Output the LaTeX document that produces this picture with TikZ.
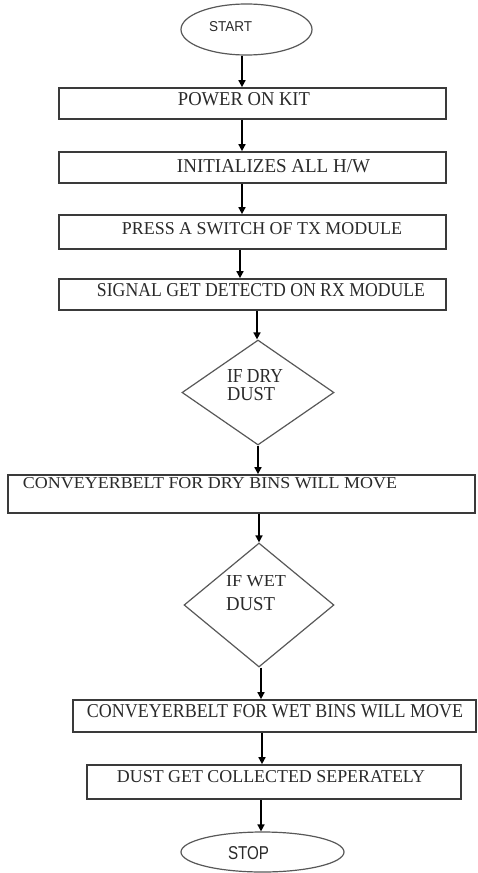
\documentclass[tikz,border=0pt]{standalone}
\usepackage{fontspec}
\setmainfont{Liberation Serif}
\setsansfont{Liberation Sans}
\usepackage{graphicx}
\usetikzlibrary{shapes.geometric,arrows.meta}
\newcommand{\fitt}[3]{\resizebox{#1pt}{#2pt}{#3}}
\definecolor{txtc}{HTML}{2A2A2A}
\definecolor{linec}{HTML}{3A3A3A}
\begin{document}
\begin{tikzpicture}[x=1pt,y=1pt,
  boxstyle/.style={draw=linec, line width=1.7pt, rectangle, inner sep=0pt},
  ellstyle/.style={draw=linec!85, line width=1.2pt, ellipse, inner sep=0pt},
  diastyle/.style={draw=linec!85, line width=1.2pt, diamond, inner sep=0pt},
  txt/.style={inner sep=0pt, text=txtc},
  arr/.style={draw=black, line width=1.6pt, -{Triangle[width=7pt,length=7pt]}}
]
\useasboundingbox[fill=white] (0,0) rectangle (477,-873);

% shapes
\node[ellstyle, minimum width=131pt, minimum height=51pt] (start) at (246.5,-29.5) {};
\node[boxstyle, minimum width=387pt, minimum height=31pt] (b1) at (252.5,-103.5) {};
\node[boxstyle, minimum width=387pt, minimum height=31pt] (b2) at (252.5,-167.5) {};
\node[boxstyle, minimum width=387pt, minimum height=34pt] (b3) at (252.5,-232) {};
\node[boxstyle, minimum width=387pt, minimum height=31pt] (b4) at (252.5,-294.5) {};
\node[diastyle, minimum width=152pt, minimum height=105pt] (d1) at (258,-392.5) {};
\node[boxstyle, minimum width=467pt, minimum height=38pt] (b5) at (241.5,-494) {};
\node[diastyle, minimum width=150pt, minimum height=124pt] (d2) at (259,-605) {};
\node[boxstyle, minimum width=403pt, minimum height=32pt] (b6) at (274.5,-716) {};
\node[boxstyle, minimum width=374pt, minimum height=34pt] (b7) at (274,-782) {};
\node[ellstyle, minimum width=163pt, minimum height=40pt] (stop) at (262.5,-852) {};

% texts
\node[txt] (tstart) at (230.5,-26.5) {\fitt{43}{10}{\sffamily START}};
\node[txt] (t1) at (244,-99.5) {\fitt{132}{13}{POWER ON KIT}};
\node[txt] (t2) at (273.5,-166.5) {\fitt{193}{13}{INITIALIZES ALL H/W}};
\node[txt] (t3) at (262,-228.5) {\fitt{280}{12}{PRESS A SWITCH OF TX MODULE}};
\node[txt] (t4) at (261,-290.5) {\fitt{328}{13}{SIGNAL GET DETECTD ON RX MODULE}};
\node[txt] (td1a) at (255,-376.5) {\fitt{56}{13}{IF DRY}};
\node[txt] (td1b) at (251,-394.5) {\fitt{48}{13}{DUST}};
\node[txt] (t5) at (210,-483.5) {\fitt{374}{11}{CONVEYERBELT FOR DRY BINS WILL MOVE}};
\node[txt] (td2a) at (256,-581.5) {\fitt{60}{11}{IF WET}};
\node[txt] (td2b) at (250.5,-604.5) {\fitt{49}{13}{DUST}};
\node[txt] (t6) at (275,-711.5) {\fitt{376}{13}{CONVEYERBELT FOR WET BINS WILL MOVE}};
\node[txt] (t7) at (271,-777) {\fitt{308}{12}{DUST GET COLLECTED SEPERATELY}};
\node[txt] (tstop) at (248.5,-853.5) {\fitt{41}{13}{\sffamily STOP}};

% arrow x positions
\coordinate (x1) at (242,0);
\coordinate (x4) at (240,0);
\coordinate (x5) at (257,0);
\coordinate (x8) at (261,0);
\coordinate (x9) at (262,0);

% connectors
\draw[arr] (start.south -| x1) -- (b1.north -| x1);
\draw[arr] (b1.south -| x1) -- (b2.north -| x1);
\draw[arr] (b2.south -| x1) -- (b3.north -| x1);
\draw[arr] (b3.south -| x4) -- (b4.north -| x4);
\draw[arr] (b4.south -| x5) -- (d1.north -| x5);
\draw[arr] (d1.south) -- (b5.north -| d1.south);
\draw[arr] (b5.south -| d2.north) -- (d2.north);
\draw[arr] (d2.south -| x8) -- (b6.north -| x8);
\draw[arr] (b6.south -| x9) -- (b7.north -| x9);
\draw[arr] (b7.south -| x8) -- (stop.north -| x8);
\end{tikzpicture}
\end{document}
